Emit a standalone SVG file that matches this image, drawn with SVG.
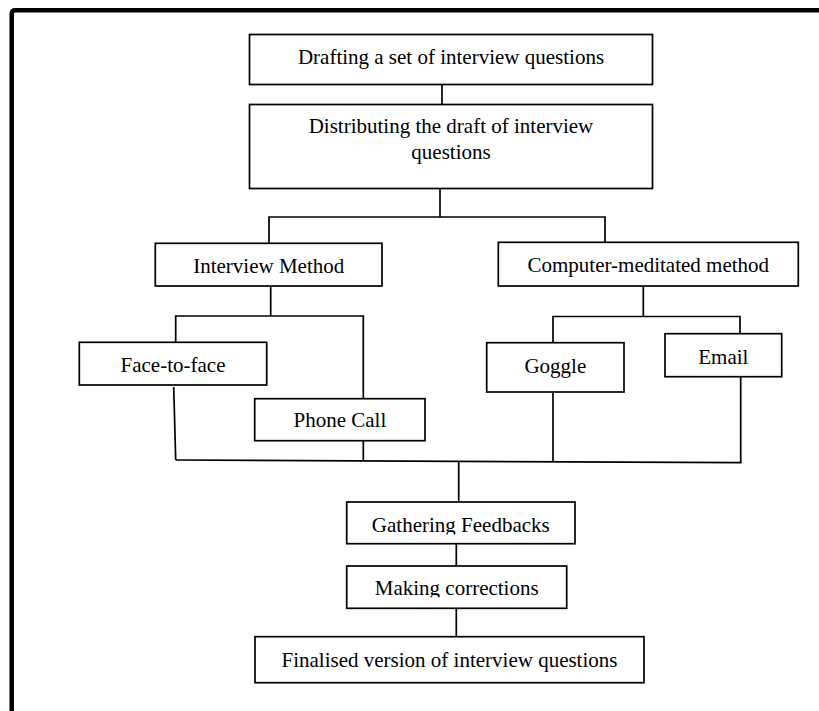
<svg xmlns="http://www.w3.org/2000/svg" width="819" height="711" viewBox="0 0 819 711">
  <style>
    .box { fill: #ffffff; stroke: #000000; stroke-width: 1.7; }
    .lbl { font-family: "Liberation Serif", "Times New Roman", serif; font-size: 21px; fill: #000000; text-anchor: middle; }
    .con { fill: none; stroke: #000000; stroke-width: 1.7; }
  </style>
  <defs>
    <clipPath id="clipGather"><rect x="340" y="500" width="240" height="34.5"/></clipPath>
    <clipPath id="clipMaking"><rect x="340" y="564" width="230" height="33.3"/></clipPath>
  </defs>
  <rect x="0" y="0" width="819" height="711" fill="#ffffff"/>
  <path d="M11.7,711 V14 Q11.7,10.3 15.5,10.3 H819" fill="none" stroke="#000000" stroke-width="4.5"/>

  <g id="connectors">
    <line class="con" x1="442" y1="84.5" x2="442" y2="104.5"/>
    <line class="con" x1="440" y1="188.5" x2="440" y2="217"/>
    <polyline class="con" points="269,243.3 269,217 605,217 605,242.3"/>
    <line class="con" x1="270.7" y1="286" x2="270.7" y2="316"/>
    <polyline class="con" points="175.7,342.3 175.7,316 363.3,316 363.3,398.7"/>
    <line class="con" x1="643.3" y1="286" x2="643.3" y2="316.5"/>
    <polyline class="con" points="553,342.7 553,316.5 740,316.5 740,333.7"/>
    <line class="con" x1="173.7" y1="387" x2="175.7" y2="460"/>
    <line class="con" x1="363.3" y1="440.7" x2="363.3" y2="460.8"/>
    <line class="con" x1="553" y1="392" x2="553" y2="461.5"/>
    <line class="con" x1="740.7" y1="376.7" x2="740.7" y2="463"/>
    <line class="con" x1="175.7" y1="460" x2="741.5" y2="462.6"/>
    <line class="con" x1="458.7" y1="461.5" x2="458.7" y2="502"/>
    <line class="con" x1="456.3" y1="543.7" x2="456.3" y2="566"/>
    <line class="con" x1="456.3" y1="608.3" x2="456.3" y2="636.7"/>
  </g>

  <g id="node-drafting">
    <rect class="box" x="249.5" y="34.5" width="403" height="50"/>
    <text class="lbl" x="451" y="64">Drafting a set of interview questions</text>
  </g>
  <g id="node-distributing">
    <rect class="box" x="249.5" y="104.5" width="403" height="84"/>
    <text class="lbl" x="451" y="133">Distributing the draft of interview</text>
    <text class="lbl" x="451" y="159">questions</text>
  </g>
  <g id="node-interview-method">
    <rect class="box" x="155.3" y="243.3" width="226.7" height="42.7"/>
    <text class="lbl" x="268.7" y="272.5">Interview Method</text>
  </g>
  <g id="node-computer-method">
    <rect class="box" x="498.3" y="242.3" width="300" height="43.7"/>
    <text class="lbl" x="648.3" y="271.7">Computer-meditated method</text>
  </g>
  <g id="node-face">
    <rect class="box" x="79.3" y="342.3" width="187.4" height="42.7"/>
    <text class="lbl" x="173" y="371.7">Face-to-face</text>
  </g>
  <g id="node-phone">
    <rect class="box" x="254.7" y="398.7" width="170.3" height="42"/>
    <text class="lbl" x="339.9" y="427.3">Phone Call</text>
  </g>
  <g id="node-goggle">
    <rect class="box" x="486.7" y="342.7" width="137.3" height="49.3"/>
    <text class="lbl" x="555.3" y="372.7">Goggle</text>
  </g>
  <g id="node-email">
    <rect class="box" x="665" y="333.7" width="116.7" height="43"/>
    <text class="lbl" x="723.3" y="364.3">Email</text>
  </g>
  <g id="node-gathering">
    <rect class="box" x="346.7" y="502" width="228.3" height="41.7"/>
    <text class="lbl" x="460.8" y="531.7" clip-path="url(#clipGather)">Gathering Feedbacks</text>
  </g>
  <g id="node-making">
    <rect class="box" x="346.7" y="566" width="220" height="42.3"/>
    <text class="lbl" x="456.7" y="595" clip-path="url(#clipMaking)">Making corrections</text>
  </g>
  <g id="node-final">
    <rect class="box" x="255" y="636.7" width="389" height="46"/>
    <text class="lbl" x="449.5" y="666.7">Finalised version of interview questions</text>
  </g>
</svg>
